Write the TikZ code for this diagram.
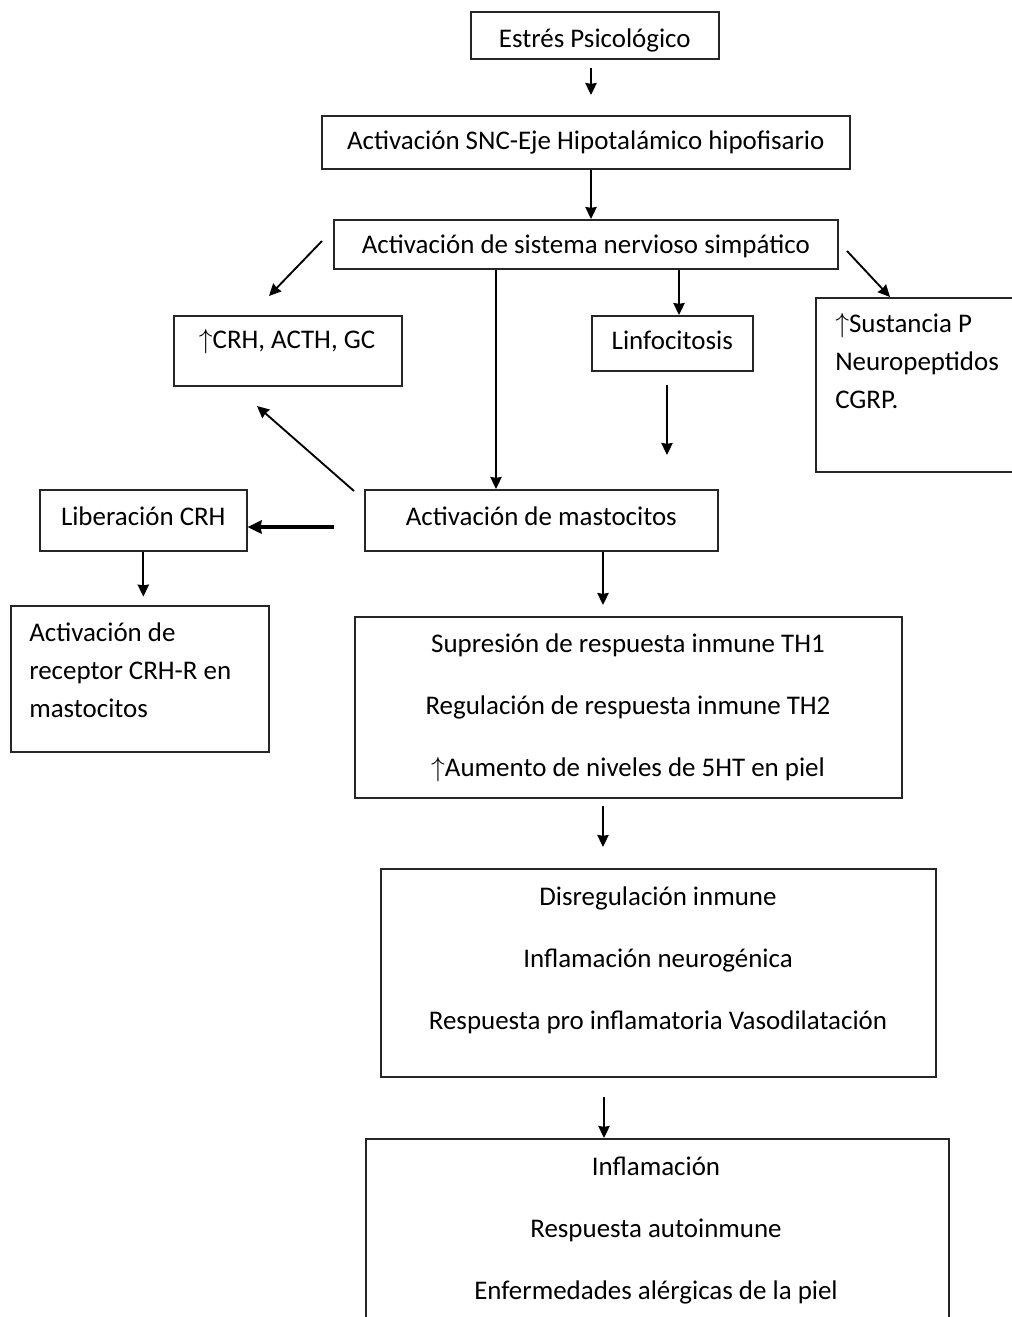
\documentclass[tikz,border=0pt]{standalone}
\usepackage{fontspec}
\usepackage{amssymb}
\usepackage{tikz}
\usetikzlibrary{arrows.meta, positioning}
\setmainfont{Carlito}

\begin{document}
\begin{tikzpicture}[
    x=0.75pt, y=-0.75pt,
    box/.style={
      rectangle, draw=black!85, line width=1.2pt,
      anchor=north west, inner sep=0pt, text depth=0pt,
      font=\fontsize{20.2}{28.5}\selectfont
    },
    txt/.style={font=\fontsize{20.2}{28.5}\selectfont, inner sep=0pt},
    lefttxt/.style={txt, align=left, anchor=west},
    list/.style={inner sep=0pt, align=center, font=\fontsize{20.2}{46.5}\selectfont},
    arrow/.style={->, >={Stealth[length=9pt, width=8.5pt, inset=0.6pt]}, line width=1.4pt, draw=black},
    thickarrow/.style={->, >={Stealth[length=10.5pt, width=10pt, inset=0.8pt]}, line width=2.3pt, draw=black}
  ]

    % ── page frame (everything past it is cut off) ────────────────────────
    \clip (0,0) rectangle (1012,1317);

    % ── Top chain ─────────────────────────────────────────────────────────
    \node[box, minimum width=186pt, minimum height=35.25pt, text height=18.3pt]  (estres) at (470,11)  {Estrés Psicológico};
    \node[box, minimum width=396pt, minimum height=39.75pt, text height=11.25pt] (snc)    at (321,115) {Activación SNC-Eje Hipotalámico hipofisario};
    \node[box, minimum width=378pt, minimum height=36.75pt, text height=14.25pt] (sist)   at (333,219) {Activación de sistema nervioso simpático};

    % ── Second row ────────────────────────────────────────────────────────
    \node[box, minimum width=171pt, minimum height=52.5pt]    (crh)   at (173,315) {};
    \node[txt] (crh_t) at (287,342) {$\uparrow$CRH, ACTH, GC};
    \node[box, minimum width=120.75pt, minimum height=41.25pt, text height=9.75pt] (linfo) at (591,315) {Linfocitosis};
    \node[box, minimum width=180pt, minimum height=130.5pt]   (sust)  at (815,297) {};
    \node[lefttxt] (sust_t) at (835,361) {$\uparrow$Sustancia P\\Neuropeptidos\\CGRP.};

    % ── Mast cell row ─────────────────────────────────────────────────────
    \node[box, minimum width=155.25pt, minimum height=45.75pt, text height=8.25pt] (liber) at (39,489)  {Liberación CRH};
    \node[box, minimum width=264.75pt, minimum height=45.75pt, text height=8.25pt] (masto) at (364,489) {Activación de mastocitos};
    \node[box, minimum width=193.5pt, minimum height=109.5pt]  (recep) at (10,605) {};
    \node[lefttxt] (recep_t) at (29,670) {Activación de\\receptor CRH-R en\\mastocitos};

    % ── Lower boxes ───────────────────────────────────────────────────────
    \node[box, minimum width=410.25pt, minimum height=135.75pt] (supr) at (354,616) {};
    \node[list] (supr_t) at (628,707.5)
      {Supresión de respuesta inmune TH1\\Regulación de respuesta inmune TH2\\$\uparrow$Aumento de niveles de 5HT en piel};
    \node[box, minimum width=416.25pt, minimum height=156pt] (disreg) at (380,868) {};
    \node[list] (disreg_t) at (658,960)
      {Disregulación inmune\\Inflamación neurogénica\\Respuesta pro inflamatoria Vasodilatación};
    \node[box, minimum width=437.25pt, minimum height=165pt] (infl) at (365,1138) {};
    \node[list] (infl_t) at (656,1231)
      {Inflamación\\Respuesta autoinmune\\Enfermedades alérgicas de la piel};

    % ── Free arrow ends ───────────────────────────────────────────────────
    \coordinate (e_top)  at (591,68);
    \coordinate (e_snc)  at (591,95);
    \coordinate (l_from) at (322,241);
    \coordinate (l_to)   at (269,296);
    \coordinate (r_from) at (847,251);
    \coordinate (r_to)   at (890,297);
    \coordinate (m_col)  at (496,0);
    \coordinate (n_col)  at (679,0);
    \coordinate (f_from) at (667,385);
    \coordinate (f_to)   at (667,455);
    \coordinate (c_from) at (354,491);
    \coordinate (c_to)   at (257,406);
    \coordinate (k_from) at (334,527);
    \coordinate (s_to)   at (603,605);
    \coordinate (t_from) at (603,806);
    \coordinate (t_to)   at (603,847);
    \coordinate (d_from) at (604,1097);

    % ── Arrows ────────────────────────────────────────────────────────────
    \draw[arrow] (e_top) -- (e_snc);
    \draw[arrow] (snc.south -| e_top) -- (sist.north -| e_top);
    \draw[arrow] (l_from) -- (l_to);
    \draw[arrow] (r_from) -- (r_to);
    \draw[arrow] (sist.south -| m_col) -- (masto.north -| m_col);
    \draw[arrow] (sist.south -| n_col) -- (linfo.north -| n_col);
    \draw[arrow] (f_from) -- (f_to);
    \draw[arrow] (c_from) -- (c_to);
    \draw[thickarrow] (k_from) -- (liber.east |- k_from);
    \draw[arrow] (liber.south) -- ++(0,45);
    \draw[arrow] (masto.south -| s_to) -- (s_to);
    \draw[arrow] (t_from) -- (t_to);
    \draw[arrow] (d_from) -- (infl.north -| d_from);

  \end{tikzpicture}
\end{document}
